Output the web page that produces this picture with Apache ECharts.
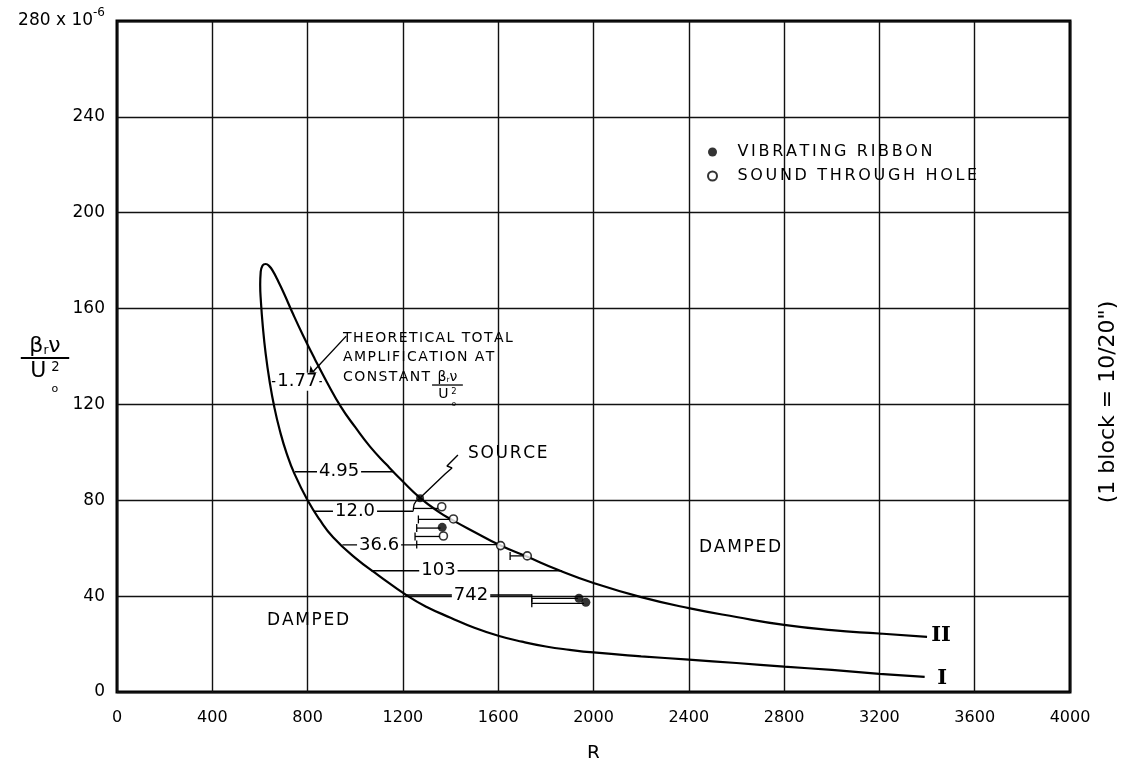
<!DOCTYPE html>
<html><head><meta charset="utf-8">
<script src="https://cdn.jsdelivr.net/npm/echarts@6/dist/echarts.min.js"></script>
<style>html,body{margin:0;padding:0;background:#fff}#c{width:1133px;height:758px}</style>
</head><body><div id="c"></div>
<script>
// ---------- data ----------
// curve I (lower branch), from its right end up to the tip
const curveIx = [3390, 3200, 3000, 2800, 2600, 2400, 2200, 2000, 1900, 1800, 1700, 1600, 1500, 1400, 1300, 1221, 1100, 1000, 907, 850, 800, 745, 712, 684, 660, 640, 624, 612, 604, 601, 603, 611];
const curveIy = [6.3, 7.6, 9.2, 10.6, 12.1, 13.5, 14.9, 16.5, 17.6, 19.0, 21.0, 23.5, 26.8, 31.0, 35.5, 40.0, 48.5, 56.0, 64.6, 72.0, 80.0, 91.0, 99.6, 108.9, 119, 130, 141.2, 152.6, 163, 170, 175, 178];
// curve II (upper branch), from the tip to its right end
const curveIIx = [624, 640, 655, 672, 700, 740, 780, 830, 880, 940, 1000, 1062, 1130, 1200, 1272, 1350, 1412, 1500, 1608, 1720, 1850, 2000, 2200, 2400, 2600, 2800, 3000, 3200, 3400];
const curveIIy = [178.6, 177.6, 175.5, 172.3, 166.5, 157.5, 149, 139, 129.5, 119, 110.5, 102.4, 95, 87.8, 81, 75.2, 71.5, 66.8, 61.2, 56.5, 51, 45.5, 39.6, 35, 31.3, 28, 25.8, 24.4, 23.0];

// measured points
const ribbonX = [1365, 1939, 1968];
const ribbonY = [68.7, 39.1, 37.4];
const soundX = [1363, 1412, 1370, 1610, 1722];
const soundY = [77.3, 72.2, 65.1, 61.1, 56.8];
const sourceX = [1272];
const sourceY = [80.8];

// horizontal ranges drawn from the measured points
const rangeY = [76.6, 72.0, 68.4, 64.9, 61.5, 56.8, 39.1, 37.0];
const rangeFrom = [1244, 1265, 1258, 1251, 1258, 1650, 1741, 1741];
const rangeTo = [1350, 1400, 1358, 1358, 1598, 1710, 1935, 1960];
const rangeTick = [0, 1, 1, 1, 1, 1, 1, 1];

// lines of constant theoretical total amplification
const ampLabels = ['1.77', '4.95', '12.0', '36.6', '103', '742'];
const ampY = [129.5, 91.9, 75.4, 61.4, 50.6, 40.5];
const ampFrom = [650, 747, 826, 946, 1068, 1210];
const ampTo = [860, 1160, 1244, 1258, 1868, 1741];
const ampLabelX = [757, 932, 999, 1100, 1349, 1486];

// leader lines
const sourceLeaderX = [1431, 1385, 1406, 1377, 1276];
const sourceLeaderY = [98.9, 94.3, 93.5, 91.0, 81.4];
const sourceBracketX = [1272, 1255, 1247, 1244, 1244];
const sourceBracketY = [80.8, 79.6, 78.3, 76.6, 75.6];
const theoArrow = [[962, 148.5], [805, 131.8]];

// text annotations
const noteText = ['THEORETICAL TOTAL', 'AMPLIFICATION AT', 'CONSTANT', 'SOURCE', 'DAMPED', 'DAMPED'];
const noteX = [949, 949, 949, 1473, 802, 2615];
const noteY = [147.7, 139.8, 131.5, 99.6, 30, 60.1];
const romanText = ['II', 'I'];
const romanX = [3459, 3463];
const romanY = [23.5, 5.8];
const fracAnchor = [1387, 128.1];

// axes
const xTicks = [0, 400, 800, 1200, 1600, 2000, 2400, 2800, 3200, 3600, 4000];
const yTicks = [0, 40, 80, 120, 160, 200, 240, 280];

// ---------- styles ----------
const FONT = 'DejaVu Sans';
const noteAlign = ['left', 'left', 'left', 'left', 'center', 'center'];
const noteSize = [14, 14, 14, 17, 17, 17];
const HAIR = '\u200A', SIXTH = '\u2006';
const spaced = (s, sp) => s.split('').join(sp);

const zip = (xs, ys) => xs.map((x, i) => [x, ys[i]]);
const loop = zip(curveIx, curveIy).concat(zip(curveIIx, curveIIy));

const chart = echarts.init(document.getElementById('c'));

function textSeries(name, xs, ys, textFn, styleFn) {
  return {
    name, type: 'custom', z: 5, silent: true,
    data: xs.map((x, i) => [x, ys[i], i]),
    encode: { x: 0, y: 1 },
    renderItem: (params, api) => {
      const i = api.value(2);
      const p = api.coord([api.value(0), api.value(1)]);
      return { type: 'text', x: p[0], y: p[1], z2: 10,
        style: Object.assign({ text: textFn(i), fill: '#000', fontFamily: FONT, verticalAlign: 'middle', align: 'center' }, styleFn(i)) };
    }
  };
}

const option = {
  animation: false,
  backgroundColor: '#fff',
  textStyle: { fontFamily: FONT, color: '#000' },
  grid: { left: 117, right: 63, top: 21, bottom: 66, show: true, borderColor: '#000', borderWidth: 3, containLabel: false, outerBoundsMode: 'none' },
  legend: {
    data: ['VIBRATING RIBBON', 'SOUND THROUGH HOLE'],
    formatter: n => spaced(n, SIXTH),
    orient: 'vertical', left: 707, top: 144, itemGap: 8,
    itemWidth: 40, itemHeight: 9, padding: 0,
    textStyle: { fontFamily: FONT, fontSize: 16, color: '#000' },
    selectedMode: false
  },
  xAxis: {
    type: 'value', min: xTicks[0], max: xTicks[xTicks.length - 1], interval: xTicks[1] - xTicks[0],
    name: 'R', nameLocation: 'middle', nameGap: 53,
    nameTextStyle: { fontFamily: FONT, fontSize: 19, color: '#000' },
    axisLine: { show: false }, axisTick: { show: false },
    axisLabel: { fontFamily: FONT, fontSize: 16, color: '#000', margin: 18, formatter: v => String(v) },
    splitLine: { show: true, lineStyle: { color: '#111', width: 1.4 } }
  },
  yAxis: {
    type: 'value', min: yTicks[0], max: yTicks[yTicks.length - 1], interval: yTicks[1] - yTicks[0],
    axisLine: { show: false }, axisTick: { show: false },
    axisLabel: {
      fontFamily: FONT, fontSize: 17, color: '#000', margin: 12,
      formatter: v => v === yTicks[yTicks.length - 1] ? '{a|' + v + ' x 10}{s|-6}' : '{a|' + v + '}',
      rich: {
        a: { fontFamily: FONT, fontSize: 17, lineHeight: 28, color: '#000' },
        s: { fontFamily: FONT, fontSize: 12, lineHeight: 12, verticalAlign: 'top', color: '#000' }
      }
    },
    splitLine: { show: true, lineStyle: { color: '#111', width: 1.4 } }
  },
  series: [
    {
      name: 'curve', type: 'line', data: loop, smooth: 0.5, symbol: 'none', z: 3,
      lineStyle: { color: '#000', width: 2.2 }, silent: true,
      markLine: {
        silent: true, symbol: ['none', 'arrow'], symbolSize: 9, label: { show: false },
        lineStyle: { color: '#000', width: 1.4, type: 'solid' },
        data: [[{ coord: theoArrow[0] }, { coord: theoArrow[1] }]]
      }
    },
    {
      name: 'leaders', type: 'custom', z: 3, silent: true,
      encode: { x: [0, 2], y: 1 },
      data: ampFrom.map((x, i) => [x, ampY[i], ampTo[i]]),
      renderItem: (params, api) => {
        const p1 = api.coord([api.value(0), api.value(1)]);
        const p2 = api.coord([api.value(2), api.value(1)]);
        return { type: 'line', shape: { x1: p1[0], y1: p1[1], x2: p2[0], y2: p2[1] }, style: { stroke: '#000', lineWidth: 1.4 } };
      }
    },
    {
      name: 'ranges', type: 'custom', z: 3, silent: true,
      encode: { x: [0, 2], y: 1 },
      data: rangeFrom.map((x, i) => [x, rangeY[i], rangeTo[i], rangeTick[i]]),
      renderItem: (params, api) => {
        const p1 = api.coord([api.value(0), api.value(1)]);
        const p2 = api.coord([api.value(2), api.value(1)]);
        const ch = [{ type: 'line', shape: { x1: p1[0], y1: p1[1], x2: p2[0], y2: p2[1] }, style: { stroke: '#000', lineWidth: 1.3 } }];
        if (api.value(3)) ch.push({ type: 'line', shape: { x1: p1[0], y1: p1[1] - 4, x2: p1[0], y2: p1[1] + 4 }, style: { stroke: '#000', lineWidth: 1.3 } });
        return { type: 'group', children: ch };
      }
    },
    {
      name: 'bracket', type: 'line', data: zip(sourceBracketX, sourceBracketY), symbol: 'none', z: 3, silent: true,
      lineStyle: { color: '#000', width: 1.3 }
    },
    {
      name: 'sourceLeader', type: 'line', data: zip(sourceLeaderX, sourceLeaderY), symbol: 'none', z: 3, silent: true,
      lineStyle: { color: '#000', width: 1.4 }
    },
    {
      name: 'SOURCE', type: 'scatter', data: zip(sourceX, sourceY), symbol: 'circle', symbolSize: 8, z: 6,
      itemStyle: { color: '#000' }
    },
    {
      name: 'VIBRATING RIBBON', type: 'scatter', data: zip(ribbonX, ribbonY), symbol: 'circle', symbolSize: 9, z: 6,
      itemStyle: { color: '#000' }
    },
    {
      name: 'SOUND THROUGH HOLE', type: 'scatter', data: zip(soundX, soundY), symbol: 'circle', symbolSize: 8, z: 6,
      itemStyle: { color: '#fff', borderColor: '#000', borderWidth: 1.6 }
    },
    textSeries('ampLabels', ampLabelX, ampY, i => ampLabels[i],
      i => ({ fontSize: 18, backgroundColor: '#fff', padding: [0, 2] })),
    textSeries('notes', noteX, noteY,
      i => spaced(noteText[i], HAIR),
      i => ({ fontSize: noteSize[i], align: noteAlign[i] })),
    textSeries('romans', romanX, romanY, i => romanText[i],
      i => ({ fontFamily: 'DejaVu Serif', fontWeight: 'bold', fontSize: 21 }))
  ]
};
chart.setOption(option);

// fraction drawn as text + bar (pixel layout)
function fraction(cx, by, fs) {
  return {
    type: 'group', x: cx, y: by, silent: true,
    children: [
      { type: 'text', x: 0, y: -1, style: {
          text: '{b|β}{s|r}{b|ν}', align: 'center', verticalAlign: 'bottom',
          rich: { b: { fontFamily: FONT, fontSize: fs, fill: '#000', lineHeight: fs * 1.2, verticalAlign: 'bottom' },
                  s: { fontFamily: FONT, fontSize: fs * 0.55, fill: '#000', lineHeight: fs * 0.6, verticalAlign: 'bottom' } } } },
      { type: 'line', shape: { x1: -fs * 1.1, y1: 0, x2: fs * 1.1, y2: 0 }, style: { stroke: '#000', lineWidth: Math.max(1.3, fs / 11) } },
      { type: 'text', x: -fs * 0.3, y: 2, style: { text: 'U', fontFamily: FONT, fontSize: fs, fill: '#000', align: 'center', verticalAlign: 'top' } },
      { type: 'text', x: fs * 0.28, y: 3, style: { text: '2', fontFamily: FONT, fontSize: fs * 0.6, fill: '#000', align: 'left', verticalAlign: 'top' } },
      { type: 'text', x: fs * 0.3, y: fs * 1.4, style: { text: 'o', fontFamily: FONT, fontSize: fs * 0.5, fill: '#000', align: 'left', verticalAlign: 'middle' } }
    ]
  };
}
const fp = chart.convertToPixel({ xAxisIndex: 0, yAxisIndex: 0 }, fracAnchor);
chart.setOption({
  graphic: [
    fraction(45, 358, 22),
    fraction(fp[0], fp[1], 14),
    { type: 'text', x: 1108, y: 402, rotation: Math.PI / 2, silent: true,
      style: { text: '(1 block = 10/20")', fontFamily: FONT, fontSize: 22, fill: '#000', align: 'center', verticalAlign: 'middle' } }
  ]
});
</script>
</body></html>
